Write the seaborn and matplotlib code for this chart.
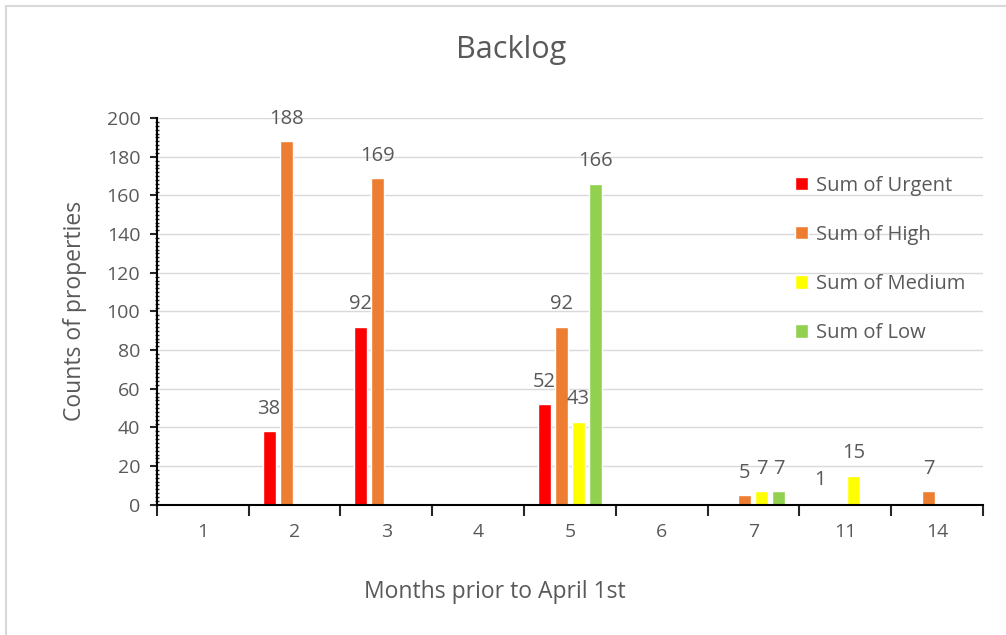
import pandas as pd
import numpy as np
import matplotlib
matplotlib.use("Agg")
import matplotlib.pyplot as plt
from matplotlib.lines import Line2D
from matplotlib.ticker import MultipleLocator, FixedLocator
import seaborn as sns

# data (None = no bar)
months = ["1", "2", "3", "4", "5", "6", "7", "11", "14"]
urgent = [None, 38, 92, None, 52, None, None, 1, None]
high = [None, 188, 169, None, 92, None, 5, None, 7]
medium = [None, None, None, None, 43, None, 7, 15, None]
low = [None, None, None, None, 166, None, 7, None, None]
series = ["Sum of Urgent", "Sum of High", "Sum of Medium", "Sum of Low"]
colors = ["#FF0000", "#ED7D31", "#FFFF00", "#92D050"]

df = pd.DataFrame({"Month": months, series[0]: urgent, series[1]: high,
                   series[2]: medium, series[3]: low})
long = df.melt(id_vars="Month", var_name="Series", value_name="Count").dropna()

sns.set_style("white")
plt.rcParams["font.family"] = ["Open Sans", "DejaVu Sans"]
txt = "#595959"

fig = plt.figure(figsize=(10.06, 6.35), dpi=100)
ax = fig.add_axes([0.156, 0.205, 0.821, 0.609])

sns.barplot(data=long, x="Month", y="Count", hue="Series", order=months,
            hue_order=series, palette=colors, width=0.74, gap=0.24,
            saturation=1, ax=ax, legend=True, errorbar=None)

for c in ax.containers:
    ax.bar_label(c, fmt="%g", padding=9, fontsize=14.5, color=txt)

ax.set_ylim(0, 200)
ax.set_xlim(-0.5, len(months) - 0.5)
ax.yaxis.set_major_locator(MultipleLocator(20))
ax.yaxis.set_minor_locator(MultipleLocator(2))
ax.xaxis.set_minor_locator(FixedLocator(np.arange(-0.5, len(months), 1)))
ax.grid(axis="y", color="#d9d9d9", lw=1)
ax.set_axisbelow(True)

for s in ["top", "right"]:
    ax.spines[s].set_visible(False)
for s in ["left", "bottom"]:
    ax.spines[s].set_color("black")
    ax.spines[s].set_linewidth(1.5)

ax.tick_params(axis="y", which="major", left=True, length=5, width=1.5,
               direction="out", labelsize=14, labelcolor=txt, pad=7)
ax.tick_params(axis="y", which="minor", left=True, length=3, width=1,
               direction="inout")
ax.tick_params(axis="x", which="major", bottom=False, length=0,
               labelsize=14, labelcolor=txt, pad=13)
ax.tick_params(axis="x", which="minor", bottom=True, length=8, width=1.5,
               direction="out")

ax.set_xlabel("")
ax.set_ylabel("")
fig.text(495 / 1006, 1 - 592 / 635, "Months prior to April 1st",
         ha="center", va="center", fontsize=16.5, color=txt)
fig.text(75 / 1006, 1 - 311 / 635, "Counts of properties", rotation=90,
         ha="center", va="center", fontsize=16.5, color=txt)
fig.text(511 / 1006, 1 - 50 / 635, "Backlog", ha="center", va="center",
         fontsize=22, color=txt)

ax.legend(loc="upper left", bbox_to_anchor=(0.772, 0.752),
          bbox_transform=fig.transFigure, frameon=False, fontsize=14.5,
          labelcolor=txt, handlelength=0.65, handleheight=0.65,
          labelspacing=1.45, handletextpad=0.4)

# light frame on the top and left edges
fig.add_artist(Line2D([0.006, 1.0], [0.99, 0.99], color="#d9d9d9", lw=1.5))
fig.add_artist(Line2D([0.006, 0.006], [0.0, 0.99], color="#d9d9d9", lw=1.5))

fig.savefig("out.png", dpi=100)
